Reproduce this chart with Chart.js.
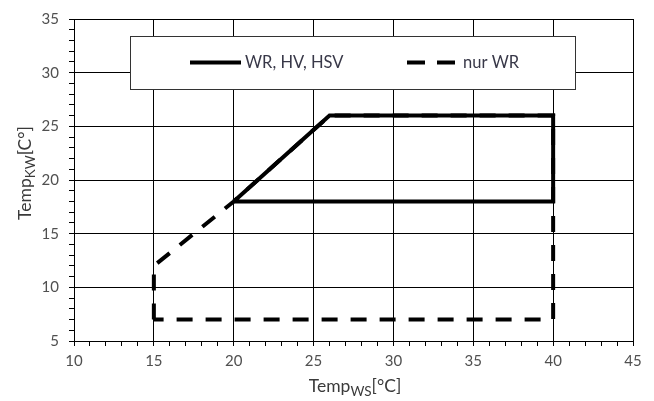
<!DOCTYPE html>
<html>
<head>
<meta charset="utf-8">
<script src="https://cdn.jsdelivr.net/npm/chart.js@4"></script>
<style>
  html, body { margin: 0; padding: 0; background: #fff; }
  #chart { display: block; }
</style>
</head>
<body>
<canvas id="chart" width="654" height="401"></canvas>
<script>
// operating range WR, HV, HSV (solid)
const solidX = [20, 26, 40, 40, 20];
const solidY = [18, 26, 26, 18, 18];
// operating range nur WR (dashed)
const dashedX = [15, 15, 20, 26, 40, 40, 15];
const dashedY = [7, 12, 18, 26, 26, 7, 7];

const seriesNames = ['WR, HV, HSV', 'nur WR'];
const xRange = [10, 45];
const yRange = [5, 35];

const FONT = 'Lato, "Open Sans", sans-serif';

const toPoints = (xs, ys) => xs.map((x, i) => ({ x: x, y: ys[i] }));

// draws "Temp" + subscript + rest, centered at x=0, baseline y=0
const drawSubText = (ctx, main, sub, rest) => {
  const big = '17.5px ' + FONT;
  const small = '13.5px ' + FONT;
  ctx.font = big;
  const w1 = ctx.measureText(main).width;
  const w3 = ctx.measureText(rest).width;
  ctx.font = small;
  const w2 = ctx.measureText(sub).width;
  let x = -(w1 + w2 + w3) / 2;
  ctx.textAlign = 'left';
  ctx.textBaseline = 'alphabetic';
  ctx.font = big;
  ctx.fillText(main, x, 0);
  x += w1;
  ctx.font = small;
  ctx.fillText(sub, x, 4);
  x += w2;
  ctx.font = big;
  ctx.fillText(rest, x, 0);
};

const overlayPlugin = {
  id: 'overlay',
  afterDraw(chart) {
    const ctx = chart.ctx;
    ctx.save();

    // legend box
    ctx.fillStyle = '#fff';
    ctx.fillRect(130.5, 36.5, 445, 53);
    ctx.strokeStyle = '#333';
    ctx.lineWidth = 1;
    ctx.strokeRect(130.5, 36.5, 445, 53);

    ctx.strokeStyle = '#000';
    ctx.lineWidth = 4;
    ctx.beginPath();
    ctx.moveTo(190, 62.5);
    ctx.lineTo(241, 62.5);
    ctx.stroke();

    ctx.setLineDash([18, 12]);
    ctx.beginPath();
    ctx.moveTo(407, 62.5);
    ctx.lineTo(455, 62.5);
    ctx.stroke();
    ctx.setLineDash([]);

    ctx.fillStyle = '#383848';
    ctx.font = '16.5px ' + FONT;
    ctx.textBaseline = 'middle';
    ctx.textAlign = 'left';
    ctx.fillText(seriesNames[0], 245, 63);
    ctx.fillText(seriesNames[1], 463, 63);

    // axis titles
    ctx.fillStyle = '#3a3a3a';
    ctx.save();
    ctx.translate(355, 392);
    drawSubText(ctx, 'Temp', 'WS', '[°C]');
    ctx.restore();

    ctx.save();
    ctx.translate(31, 173);
    ctx.rotate(-Math.PI / 2);
    drawSubText(ctx, 'Temp', 'KW', '[C°]');
    ctx.restore();

    ctx.restore();
  }
};

const gridColor = (c) => (c.tick && c.tick.value % 5 === 0) ? '#000' : 'rgba(0,0,0,0)';
const tickLabel = (v) => (v % 5 === 0 ? v : '');

new Chart(document.getElementById('chart'), {
  type: 'scatter',
  data: {
    datasets: [
      {
        label: seriesNames[0],
        data: toPoints(solidX, solidY),
        showLine: true,
        borderColor: '#000',
        borderWidth: 4,
        pointRadius: 0,
        fill: false,
        tension: 0
      },
      {
        label: seriesNames[1],
        data: toPoints(dashedX, dashedY),
        showLine: true,
        borderColor: '#000',
        borderWidth: 4,
        borderDash: [16, 13],
        pointRadius: 0,
        fill: false,
        tension: 0
      }
    ]
  },
  options: {
    responsive: false,
    animation: false,
    devicePixelRatio: 1,
    layout: { padding: { left: 0, top: 15, right: 21, bottom: 0 } },
    plugins: {
      legend: { display: false },
      tooltip: { enabled: false }
    },
    scales: {
      x: {
        type: 'linear',
        min: xRange[0],
        max: xRange[1],
        afterFit: (s) => { s.height = 60; },
        border: { display: true, color: '#000', width: 1 },
        grid: { color: gridColor, tickColor: '#000', tickLength: 5, lineWidth: 1 },
        ticks: {
          stepSize: 1,
          autoSkip: false,
          maxRotation: 0,
          padding: 6,
          color: '#505050',
          font: { family: FONT, size: 15 },
          callback: tickLabel
        }
      },
      y: {
        type: 'linear',
        min: yRange[0],
        max: yRange[1],
        afterFit: (s) => { s.width = 74; },
        border: { display: true, color: '#000', width: 1 },
        grid: { color: gridColor, tickColor: '#000', tickLength: 5, lineWidth: 1 },
        ticks: {
          stepSize: 1,
          autoSkip: false,
          padding: 10,
          color: '#505050',
          font: { family: FONT, size: 15 },
          callback: tickLabel
        }
      }
    }
  },
  plugins: [overlayPlugin]
});
</script>
</body>
</html>
